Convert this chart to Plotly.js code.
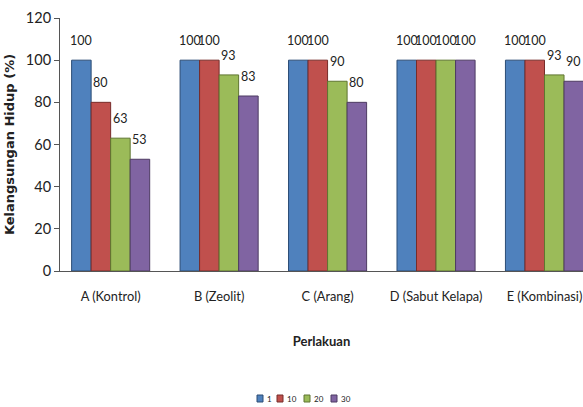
<!DOCTYPE html>
<html><head><meta charset="utf-8">
<script src="https://cdn.plot.ly/plotly-3.0.1.min.js"></script>
<style>html,body{margin:0;padding:0;background:#fff}#c{width:583px;height:407px}</style>
</head><body><div id="c"></div>
<script>
const categories = ["A (Kontrol)", "B (Zeolit)", "C (Arang)", "D (Sabut Kelapa)", "E (Kombinasi)"];
const seriesNames = ["1", "10", "20", "30"];
const s1 = [100, 100, 100, 100, 100];
const s10 = [80, 100, 100, 100, 100];
const s20 = [63, 93, 90, 100, 93];
const s30 = [53, 83, 80, 100, 90];
const yTicks = [0, 20, 40, 60, 80, 100, 120];

const colors = ["#4F81BD", "#C0504D", "#9BBB59", "#8064A2"];
const lines = ["#2c4d75", "#772c2a", "#5f7530", "#4d3b62"];
const allSeries = [s1, s10, s20, s30];
const xIdx = categories.map((_, i) => i);
const NF = "Lato, 'Liberation Sans', sans-serif";

const W = 583, H = 407, ML = 60, MR = 0, MT = 18, MB = 136;
const pw = W - ML - MR, ph = H - MT - MB;
const px = X => (X - ML) / pw;
const py = Y => (H - MB - Y) / ph;

const traces = allSeries.map((vals, k) => ({
  type: "bar", name: seriesNames[k], x: xIdx, y: vals,
  marker: {color: colors[k], line: {color: lines[k], width: 1}},
  hoverinfo: "none", showlegend: false
}));

const barW = 0.72 / 4;
const annotations = [];
const shapes = [];
allSeries.forEach((vals, k) => {
  vals.forEach((v, i) => {
    annotations.push({
      x: i + (k - 1.5) * barW, y: v, xref: "x", yref: "y",
      text: String(v), showarrow: false, yanchor: "bottom", yshift: 10,
      font: {family: NF, size: 12.5, color: "#222"}
    });
  });
});

// compact legend (Excel style) built from series names and colours
const legX = [257, 277, 304, 331];
seriesNames.forEach((name, k) => {
  shapes.push({type: "rect", xref: "paper", yref: "paper",
    x0: px(legX[k]), x1: px(legX[k] + 6), y0: py(402), y1: py(395),
    fillcolor: colors[k], line: {color: lines[k], width: 1}});
  annotations.push({xref: "paper", yref: "paper", x: px(legX[k] + 8), y: py(406),
    xanchor: "left", yanchor: "bottom", showarrow: false, text: name,
    font: {family: NF, size: 8, color: "#222"}});
});

const layout = {
  width: W, height: H,
  margin: {l: ML, r: MR, t: MT, b: MB, autoexpand: false},
  paper_bgcolor: "#fff", plot_bgcolor: "#fff",
  barmode: "group", bargap: 0.28, bargroupgap: 0,
  showlegend: false,
  xaxis: {
    range: [-0.467, 4.355], tickvals: xIdx, ticktext: categories,
    showline: true, linecolor: "#555", linewidth: 1, ticks: "", showgrid: false, zeroline: false,
    ticklabeloverflow: "allow", ticklabelstandoff: 14,
    tickfont: {family: NF, size: 12.8, color: "#222"},
    title: {text: "<b>Perlakuan</b>", font: {family: NF, size: 13, color: "#222"}, standoff: 33}
  },
  yaxis: {
    range: [0, 120], tickvals: yTicks, showline: true, linecolor: "#555", linewidth: 1,
    ticks: "outside", ticklen: 5, tickcolor: "#555", showgrid: false, zeroline: false,
    tickfont: {family: NF, size: 14.5, color: "#222"},
    title: {text: "<b>Kelangsungan Hidup (%)</b>", font: {family: "'DejaVu Sans', sans-serif", size: 13, color: "#222"}, standoff: 8}
  },
  annotations: annotations,
  shapes: shapes
};
Plotly.newPlot("c", traces, layout, {displayModeBar: false, staticPlot: true});
</script></body></html>
